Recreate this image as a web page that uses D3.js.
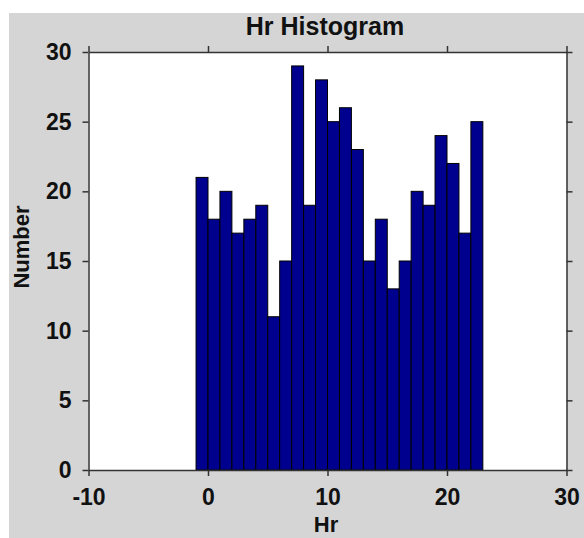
<!DOCTYPE html>
<html>
<head>
<meta charset="utf-8">
<script src="https://cdn.jsdelivr.net/npm/d3@7/dist/d3.min.js"></script>
<style>
  html, body { margin: 0; padding: 0; background: #ffffff; }
  svg { display: block; }
  text { font-family: Arial, "Liberation Sans", Helvetica, sans-serif; font-weight: bold; fill: #111; }
</style>
</head>
<body>
<svg id="chart" width="584" height="538"></svg>
<script>
// Hour-of-day histogram: one bar per hour bin
const binStarts = [-1, 0, 1, 2, 3, 4, 5, 6, 7, 8, 9, 10, 11, 12, 13, 14, 15, 16, 17, 18, 19, 20, 21, 22];
const counts    = [21, 18, 20, 17, 18, 19, 11, 15, 29, 19, 28, 25, 26, 23, 15, 18, 13, 15, 20, 19, 24, 22, 17, 25];
const binWidth = 1;
const xTicks = [-10, 0, 10, 20, 30];
const yTicks = [0, 5, 10, 15, 20, 25, 30];
const title = "Hr Histogram";
const xLabel = "Hr";
const yLabel = "Number";

const W = 584, H = 538;
const plot = { left: 88.5, right: 566.5, top: 52, bottom: 470 };

const svg = d3.select("#chart");

// figure background
svg.append("rect")
  .attr("x", 9).attr("y", 13)
  .attr("width", W - 9).attr("height", H - 13)
  .attr("fill", "#d5d5d5");

const x = d3.scaleLinear().domain([-10, 30]).range([plot.left, plot.right]);
const y = d3.scaleLinear().domain([0, 30]).range([plot.bottom, plot.top]);

// plot area
svg.append("rect")
  .attr("x", plot.left).attr("y", plot.top)
  .attr("width", plot.right - plot.left).attr("height", plot.bottom - plot.top)
  .attr("fill", "#ffffff");

// bars
svg.append("g").selectAll("rect")
  .data(binStarts.map((s, i) => ({ s, c: counts[i] })))
  .join("rect")
  .attr("x", d => x(d.s))
  .attr("width", d => x(d.s + binWidth) - x(d.s))
  .attr("y", d => y(d.c))
  .attr("height", d => y(0) - y(d.c))
  .attr("fill", "#00008f")
  .attr("stroke", "#000000")
  .attr("stroke-width", 1);

// axes on all four sides, ticks pointing outward
const tickLen = 6;
const fmt = d => String(d); // plain hyphen for negatives
function styleAxis(g) {
  g.selectAll(".domain").attr("stroke", "#333").attr("stroke-width", 1.5);
  g.selectAll(".tick line").attr("stroke", "#333").attr("stroke-width", 1.5);
  g.selectAll("text").attr("font-size", 23).attr("font-weight", "bold").attr("fill", "#111")
    .attr("font-family", "Arial, 'Liberation Sans', sans-serif");
}

svg.append("g")
  .attr("transform", `translate(0,${plot.bottom})`)
  .call(d3.axisBottom(x).tickValues(xTicks).tickSize(tickLen).tickSizeOuter(0).tickPadding(13).tickFormat(fmt))
  .call(styleAxis);

svg.append("g")
  .attr("transform", `translate(0,${plot.top})`)
  .call(d3.axisTop(x).tickValues(xTicks).tickSize(tickLen).tickSizeOuter(0).tickFormat(""))
  .call(styleAxis);

svg.append("g")
  .attr("transform", `translate(${plot.left},0)`)
  .call(d3.axisLeft(y).tickValues(yTicks).tickSize(tickLen).tickSizeOuter(0).tickPadding(11).tickFormat(fmt))
  .call(styleAxis);

svg.append("g")
  .attr("transform", `translate(${plot.right},0)`)
  .call(d3.axisRight(y).tickValues(yTicks).tickSize(tickLen).tickSizeOuter(0).tickFormat(""))
  .call(styleAxis);

// title and axis labels
svg.append("text")
  .attr("x", 325).attr("y", 35)
  .attr("text-anchor", "middle").attr("font-size", 25)
  .text(title);

svg.append("text")
  .attr("x", 326).attr("y", 532)
  .attr("text-anchor", "middle").attr("font-size", 22)
  .text(xLabel);

svg.append("text")
  .attr("transform", `translate(29,247) rotate(-90)`)
  .attr("text-anchor", "middle").attr("font-size", 22)
  .text(yLabel);
</script>
</body>
</html>
